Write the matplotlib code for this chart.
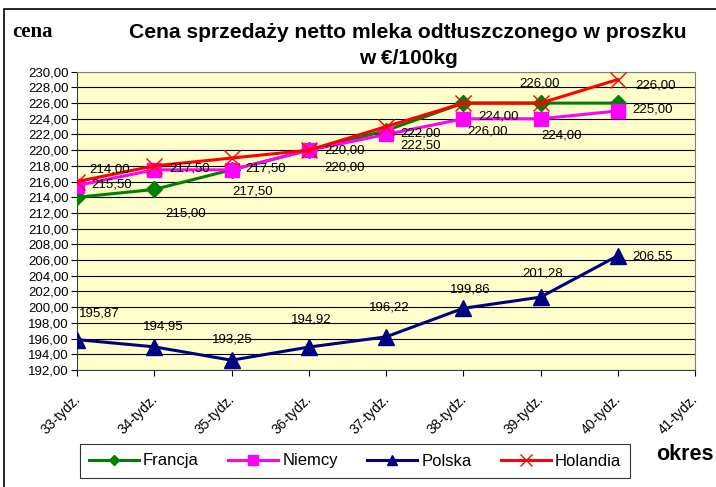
import matplotlib
matplotlib.use('Agg')
import matplotlib.pyplot as plt
import matplotlib.transforms as mtransforms
from matplotlib.ticker import FuncFormatter, MultipleLocator
from matplotlib.patches import Rectangle

plt.rcParams['font.family'] = ['Liberation Sans', 'DejaVu Sans']

weeks = ['33-tydz.', '34-tydz.', '35-tydz.', '36-tydz.', '37-tydz.',
         '38-tydz.', '39-tydz.', '40-tydz.', '41-tydz.']
francja = [214.00, 215.00, 217.50, 220.00, 222.50, 226.00, 226.00, 226.00]
niemcy = [215.50, 217.50, 217.50, 220.00, 222.00, 224.00, 224.00, 225.00]
polska = [195.87, 194.95, 193.25, 194.92, 196.22, 199.86, 201.28, 206.55]
holandia = [216.00, 218.00, 219.00, 220.00, 223.00, 226.00, 226.00, 229.00]

# label offsets in pixels (dx, dy)
off_francja = [(33, 28), (31, -24), (21, -22), (36, -17), (35, -15), (24, -28), (-1, 20), (38, 18)]
off_niemcy = [(35, 1), (35, 1), (34, 1), (36, 0), (35, 1), (35, 2), (21, -17), (35, 1)]
off_polska = [(22, 26), (9, 20), (1, 21), (3, 28), (3, 29), (7, 19), (2, 24), (35, -1)]

fig = plt.figure(figsize=(7.16, 4.87), dpi=100)
ax = fig.add_axes([77/716, 1 - 370/487, (695 - 77)/716, (370 - 71.7)/487])
ax.set_facecolor('#FFFFCC')

x = list(range(len(francja)))
ax.plot(x, polska, color='#000080', lw=2.2, marker='^', ms=11, zorder=3)
ax.plot(x, francja, color='#008000', lw=2.2, marker='D', ms=8, zorder=4)
ax.plot(x, niemcy, color='#FF00FF', lw=2.2, marker='s', ms=10, zorder=5)
ax.plot(x, holandia, color='#FF0000', lw=2.2, marker='x', ms=12, mew=1.0, zorder=6)

def fmt(v):
    return ('%.2f' % v).replace('.', ',')

for vals, offs in [(francja, off_francja), (niemcy, off_niemcy), (polska, off_polska)]:
    for i, v in enumerate(vals):
        ax.annotate(fmt(v), (i, v), xytext=offs[i], textcoords='offset pixels',
                    ha='center', va='center', fontsize=9.5, zorder=10)

ax.set_xlim(0, 8)
ax.set_ylim(192, 230)
ax.yaxis.set_major_locator(MultipleLocator(2))
ax.yaxis.set_major_formatter(FuncFormatter(lambda v, p: fmt(v)))
ax.set_xticks(range(len(weeks)))
ax.set_xticklabels(weeks, rotation=45, ha='right', va='top', rotation_mode='anchor')
ax.tick_params(axis='both', direction='out', length=4, width=0.8, labelsize=9.5, colors='black')
ax.tick_params(axis='x', pad=12, labelsize=10)
ax.tick_params(axis='y', pad=2)
shift = mtransforms.ScaledTranslation(-4/100, 0, fig.dpi_scale_trans)
for lab in ax.get_xticklabels():
    lab.set_transform(lab.get_transform() + shift)
ax.grid(axis='y', color='black', lw=0.8)
ax.set_axisbelow(True)
for s in ['top', 'right']:
    ax.spines[s].set_color('#808080')
for s in ['left', 'bottom']:
    ax.spines[s].set_color('#404040')

fig.text(12/716, 1 - 32/487, 'cena', family=['Liberation Serif'], weight='bold',
         fontsize=15, ha='left', va='center')
fig.text(408/716, 1 - 32/487, 'Cena sprzedaży netto mleka odtłuszczonego w proszku',
         weight='bold', fontsize=15.2, ha='center', va='center')
fig.text(408/716, 1 - 59/487, 'w €/100kg', weight='bold', fontsize=15,
         ha='center', va='center')
fig.text(656/716, 1 - 455/487, 'okres', weight='bold', fontsize=15.5, ha='left', va='center')

handles = ax.get_lines()
order = [1, 2, 0, 3]
leg = fig.legend([handles[i] for i in order], ['Francja', 'Niemcy', 'Polska', 'Holandia'],
                 loc='center', bbox_to_anchor=(355/716, 1 - 461/487), ncol=4,
                 fontsize=12, handlelength=3.0, columnspacing=1.75, handletextpad=0.25,
                 frameon=True, fancybox=False, edgecolor='black', borderpad=0.55,
                 markerscale=0.7)
leg.get_frame().set_linewidth(0.8)

fig.patches.append(Rectangle((4/716, -0.1), 1.1, 1 - 9/487 + 0.1, transform=fig.transFigure,
                             fill=False, edgecolor='black', lw=1.2))

fig.savefig('out.png', dpi=100)
